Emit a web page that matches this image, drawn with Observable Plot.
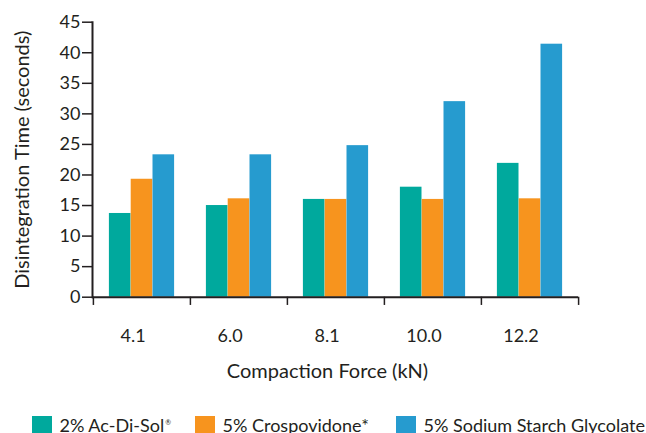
<!DOCTYPE html>
<html><head><meta charset="utf-8">
<script src="https://cdn.jsdelivr.net/npm/d3@7"></script>
<script src="https://cdn.jsdelivr.net/npm/@observablehq/plot@0.6"></script>
<style>
body{margin:0;background:#fff;font-family:Lato,sans-serif;}
#wrap{position:relative;width:646px;height:433px;overflow:hidden;}
#chart{position:absolute;left:0;top:0;}
#legend{position:absolute;top:416px;left:0;width:646px;height:30px;font-size:18px;color:#231f20;}
.item{position:absolute;top:0;display:flex;align-items:flex-start;white-space:nowrap;}
.sw{width:19.5px;height:20px;margin-right:8px;flex:none;}
.lab{line-height:18px;margin-top:0px;}
.lab sup{font-size:7px;vertical-align:top;position:relative;top:-3px;margin-left:1px;}
</style></head><body>
<div id="wrap"><div id="chart"></div><div id="legend"></div></div>
<script>
const categories = ["4.1", "6.0", "8.1", "10.0", "12.2"];
const acDiSol = [13.7, 15.0, 16.0, 18.0, 21.9];
const crospovidone = [19.3, 16.1, 16.0, 16.0, 16.1];
const sodiumStarchGlycolate = [23.3, 23.3, 24.8, 32.0, 41.4];
const seriesNames = ["2% Ac-Di-Sol", "5% Crospovidone*", "5% Sodium Starch Glycolate"];
const seriesSup = ["®", "", ""];
const seriesColors = ["#00a99d", "#f7941e", "#269bcf"];
const yTicks = [0, 5, 10, 15, 20, 25, 30, 35, 40, 45];
const yLabel = "Disintegration Time (seconds)";
const xLabel = "Compaction Force (kN)";

const ink = "#231f20";
const W = 646, H = 400, mL = 92, mR = 68, mT = 21.7, mB = 103.3;
const step = (W - mL - mR) / categories.length;
const barW = 21.8;
const inset = (step - barW) / 2;

const seriesValues = [acDiSol, crospovidone, sodiumStarchGlycolate];
const barMarks = seriesValues.map((vals, s) =>
  Plot.barY(categories.map((c, i) => ({c, v: vals[i]})), {
    x: "c", y: "v", fill: seriesColors[s],
    insetLeft: inset, insetRight: inset, dx: (s - 1) * barW
  })
);

const chart = Plot.plot({
  width: W, height: H,
  marginLeft: mL, marginRight: mR, marginTop: mT, marginBottom: mB,
  style: {fontFamily: "Lato, sans-serif", color: ink, background: "#fff"},
  x: {type: "band", domain: categories, padding: 0, axis: null},
  y: {domain: [0, 45], axis: null},
  marks: [
    ...barMarks,
    Plot.axisY({ticks: yTicks, tickSize: 10, tickPadding: 2, fontSize: 18, label: null, stroke: ink, strokeWidth: 1.5}),
    Plot.axisX({tickSize: 0, tickPadding: 32, fontSize: 18, label: null, dx: -9}),
    Plot.ruleX(categories, {x: d => d, dx: -step / 2, y1: 0, y2: -1.35, stroke: ink, strokeWidth: 1.5}),
    Plot.ruleX([categories[categories.length - 1]], {x: d => d, dx: step / 2, y1: 0, y2: -1.35, stroke: ink, strokeWidth: 1.5}),
    Plot.ruleY([0], {stroke: ink, strokeWidth: 2}),
    Plot.frame({anchor: "left", stroke: ink, strokeWidth: 2}),
    Plot.text([yLabel], {frameAnchor: "left", textAnchor: "middle", rotate: -90, dx: -70, fontSize: 20, fill: ink}),
    Plot.text([xLabel], {frameAnchor: "bottom", textAnchor: "middle", dx: -8, dy: 81, lineAnchor: "bottom", fontSize: 20, fill: ink})
  ]
});
document.getElementById("chart").appendChild(chart);

const legendLefts = [32, 195, 396];
const legend = document.getElementById("legend");
seriesNames.forEach((name, i) => {
  const item = document.createElement("div");
  item.className = "item";
  item.style.left = legendLefts[i] + "px";
  const sw = document.createElement("div");
  sw.className = "sw";
  sw.style.background = seriesColors[i];
  const lab = document.createElement("div");
  lab.className = "lab";
  lab.textContent = name;
  if (seriesSup[i]) {
    const sup = document.createElement("sup");
    sup.textContent = seriesSup[i];
    lab.appendChild(sup);
  }
  item.appendChild(sw);
  item.appendChild(lab);
  legend.appendChild(item);
});
</script>
</body></html>
